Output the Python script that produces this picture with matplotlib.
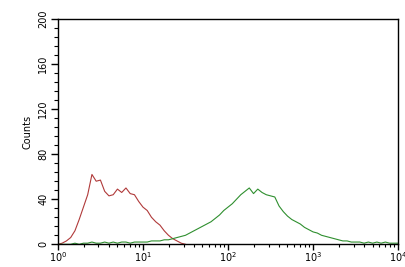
import numpy as np
import matplotlib.pyplot as plt
from matplotlib.ticker import MultipleLocator, LogLocator, NullFormatter

# channel positions (log10 of fluorescence), 0.05 decade bins
red_log = np.arange(0, 1.51, 0.05)
red_counts = [0, 1, 3, 6, 12, 22, 33, 44, 62, 56, 57, 47, 43, 44, 49, 46,
              50, 45, 44, 38, 33, 30, 24, 20, 17, 12, 8, 5, 3, 1, 0]

green_log = np.arange(0, 4.01, 0.05)
green_counts = [0, 0, 0, 0, 1, 0, 1, 1, 2, 1, 1, 2, 1, 2, 1, 2, 2, 1, 2, 2,
                2, 2, 3, 3, 3, 4, 4, 5, 6, 7, 8, 10, 12, 14, 16, 18, 20, 23, 26, 30,
                33, 36, 40, 44, 47, 50, 45, 49, 46, 44, 43, 42, 34, 29, 25, 22, 20, 18, 15, 13,
                11, 10, 8, 7, 6, 5, 4, 3, 3, 2, 2, 2, 1, 2, 1, 2, 1, 2, 1, 1, 1]

fig = plt.figure(figsize=(4.05, 2.67), dpi=100)
ax = fig.add_axes([0.143, 0.085, 0.840, 0.844])

ax.plot(10 ** red_log, red_counts, color='#b03a3a', lw=0.8)
ax.plot(10 ** green_log, green_counts, color='#2f8f2f', lw=0.8)

ax.set_xscale('log')
ax.set_xlim(1, 1e4)
ax.set_ylim(0, 200)
ax.yaxis.set_major_locator(MultipleLocator(40))
ax.yaxis.set_minor_locator(MultipleLocator(8))
ax.xaxis.set_major_locator(LogLocator(base=10))
ax.xaxis.set_minor_locator(LogLocator(base=10, subs=np.arange(2, 10)))
ax.xaxis.set_minor_formatter(NullFormatter())

ax.tick_params(axis='y', which='major', length=5, width=1, labelsize=7, labelrotation=90, pad=2)
ax.tick_params(axis='y', which='minor', length=3, width=0.8)
ax.tick_params(axis='x', which='major', length=4, width=1, labelsize=7, pad=0.5)
ax.tick_params(axis='x', which='minor', length=2.5, width=0.8)
for lbl in ax.get_yticklabels():
    lbl.set_va('center')

ax.set_ylabel('Counts', fontsize=7, labelpad=4)
for s in ax.spines.values():
    s.set_linewidth(1)

fig.savefig('out.png', dpi=100)
